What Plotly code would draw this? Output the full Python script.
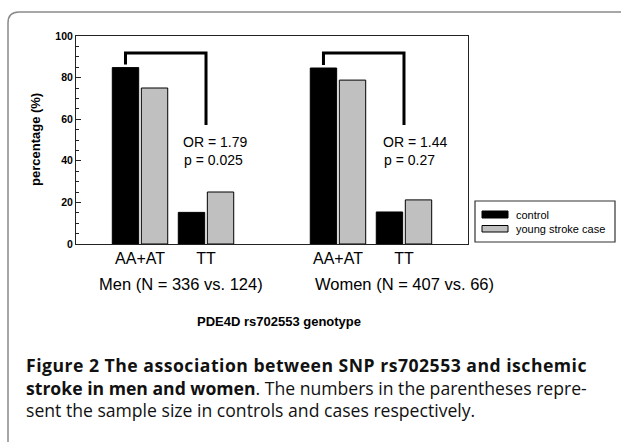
import plotly.graph_objects as go

# ---- data ----
groups = ["Men (N = 336 vs. 124)", "Women (N = 407 vs. 66)"]
genotypes = ["AA+AT", "TT", "AA+AT", "TT"]
positions = [1, 2, 4, 5]
control = [84.8, 15.2, 84.6, 15.4]
case = [75.0, 25.0, 78.8, 21.2]
or_text = ["OR = 1.79", "OR = 1.44"]
p_text = ["p = 0.025", "p = 0.27"]
series_names = ["control", "young stroke case"]
colors = ["#000000", "#c0c0c0"]

W, H = 621, 442
L, R, T, B = 76, 468, 36, 244  # plot area in pixels
pw, ph = R - L, B - T


def px(x):
    return (x - L) / pw


def py(y):
    return (B - y) / ph


fig = go.Figure()
fig.add_trace(go.Bar(x=positions, y=control, width=0.4, offset=-0.42,
                     marker=dict(color=colors[0], line=dict(color="#000", width=1)),
                     name=series_names[0], showlegend=False))
fig.add_trace(go.Bar(x=positions, y=case, width=0.4, offset=0.02,
                     marker=dict(color=colors[1], line=dict(color="#000", width=1)),
                     name=series_names[1], showlegend=False))

shapes = []
annotations = []
font_main = "Liberation Sans, Arial, sans-serif"

# brackets and OR text
for g in range(2):
    a_pos, t_pos = positions[2 * g], positions[2 * g + 1]
    left_x = a_pos - 0.22
    top_y = 91.8
    shapes.append(dict(type="path", xref="x", yref="y",
                       path=f"M {left_x},{control[2*g]+1.5} L {left_x},{top_y} L {t_pos},{top_y} L {t_pos},57.2",
                       line=dict(color="#000", width=3)))
    dx = -0.38 if g == 0 else -0.35
    annotations.append(dict(x=t_pos + dx, y=49, xref="x", yref="y", text=or_text[g],
                            showarrow=False, xanchor="left", yanchor="middle",
                            font=dict(family=font_main, size=14, color="#000")))
    annotations.append(dict(x=t_pos + dx + 0.02, y=40.4, xref="x", yref="y", text=p_text[g],
                            showarrow=False, xanchor="left", yanchor="middle",
                            font=dict(family=font_main, size=14, color="#000")))

# group labels
for g, cx in zip(range(2), [181, 404]):
    annotations.append(dict(x=px(cx), y=py(284), xref="paper", yref="paper", text=groups[g],
                            showarrow=False, xanchor="center", yanchor="middle",
                            font=dict(family=font_main, size=16.5, color="#000")))

annotations.append(dict(x=px(279), y=py(321), xref="paper", yref="paper",
                        text="<b>PDE4D rs702553 genotype</b>", showarrow=False,
                        xanchor="center", yanchor="middle",
                        font=dict(family=font_main, size=13, color="#000")))
annotations.append(dict(x=px(35), y=0.5, xref="paper", yref="paper",
                        text="<b>percentage (%)</b>", showarrow=False, textangle=-90,
                        xanchor="center", yanchor="middle",
                        font=dict(family=font_main, size=13, color="#000")))

# legend (manual)
shapes.append(dict(type="rect", xref="paper", yref="paper",
                   x0=px(475), x1=px(615), y0=py(242), y1=py(201),
                   line=dict(color="#333", width=1.2), fillcolor="white"))
for i, (yy0, yy1, yc) in enumerate([(211, 218, 214.5), (225.5, 232, 229)]):
    shapes.append(dict(type="rect", xref="paper", yref="paper",
                       x0=px(482), x1=px(508), y0=py(yy1), y1=py(yy0),
                       line=dict(color="#000", width=1), fillcolor=colors[i]))
    annotations.append(dict(x=px(514), y=py(yc), xref="paper", yref="paper",
                            text=series_names[i], showarrow=False,
                            xanchor="left", yanchor="middle",
                            font=dict(family=font_main, size=11, color="#000")))

# frame
shapes.append(dict(type="path", xref="paper", yref="paper",
                   path=(f"M {px(625)},{py(12)} L {px(19)},{py(12)} "
                         f"Q {px(8)},{py(12)} {px(8)},{py(23)} L {px(8)},{py(446)}"),
                   line=dict(color="#8a8a8a", width=1.5)))

# caption
cap_font = dict(family="Open Sans, Noto Sans, sans-serif", size=17.6, color="#111")
captions = [
    '<span style="letter-spacing:0.5px"><b>Figure 2 The association between SNP rs702553 and ischemic</b></span>',
    "<b>stroke in men and women</b>. The numbers in the parentheses repre-",
    "sent the sample size in controls and cases respectively.",
]
for line, yc in zip(captions, [365, 388, 410]):
    annotations.append(dict(x=px(24), y=py(yc), xref="paper", yref="paper", text=line,
                            showarrow=False, xanchor="left", yanchor="middle", font=cap_font))

fig.update_layout(
    width=W, height=H,
    margin=dict(l=L, r=W - R, t=T, b=H - B, pad=0),
    paper_bgcolor="white", plot_bgcolor="white",
    shapes=shapes, annotations=annotations,
    showlegend=False,
    barmode="overlay",
    xaxis=dict(range=[0.03, 5.97], tickvals=positions, ticktext=genotypes,
               ticks="", showgrid=False, zeroline=False,
               showline=True, linecolor="#222", linewidth=1, mirror=True,
               tickfont=dict(family=font_main, size=16, color="#000")),
    yaxis=dict(range=[0, 100], tickvals=[0, 20, 40, 60, 80, 100],
               ticks="inside", ticklen=5, tickcolor="#222",
               minor=dict(ticks="inside", ticklen=3, dtick=5, tickcolor="#222", showgrid=False),
               showgrid=False, zeroline=False,
               showline=True, linecolor="#222", linewidth=1, mirror=True,
               tickfont=dict(family=font_main, size=10.5, color="#000", weight="bold")),
)

fig.write_html("out.html", config={"displayModeBar": False},
               post_script="document.body.style.margin='0';document.body.style.overflow='hidden';")
